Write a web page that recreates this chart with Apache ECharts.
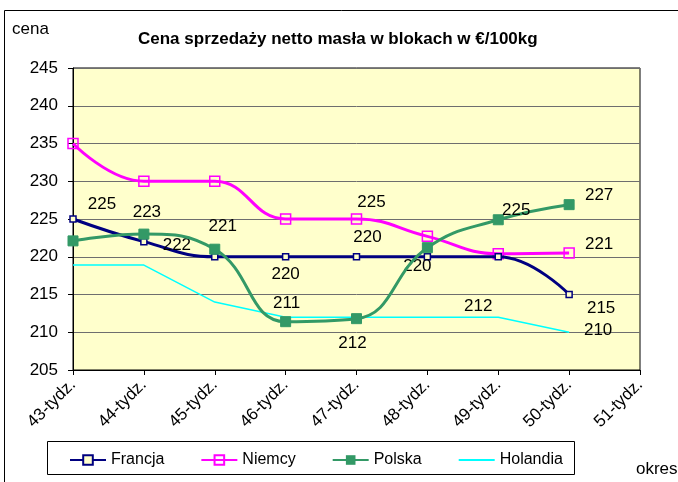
<!DOCTYPE html>
<html>
<head>
<meta charset="utf-8">
<script src="https://cdn.jsdelivr.net/npm/echarts@6/dist/echarts.min.js"></script>
<style>
  html, body { margin: 0; padding: 0; background: #fff; }
  #chart { width: 678px; height: 482px; }
</style>
</head>
<body>
<div id="chart"></div>
<script>
const weeks = ['43-tydz.', '44-tydz.', '45-tydz.', '46-tydz.', '47-tydz.', '48-tydz.', '49-tydz.', '50-tydz.', '51-tydz.'];
const francja = [225, 222, 220, 220, 220, 220, 220, 215];
const niemcy = [235, 230, 230, 225, 225, 222.7, 220.4, 220.5];
const polska = [222.1, 223, 221, 211.4, 211.8, 221.2, 224.9, 226.9];
const holandia = [218.9, 218.9, 214, 212, 212, 212, 212, 210];

// which points carry a data label, and where the label sits relative to the point
const labelOffsets = {
  Francja: { 0: [29, -15], 1: [33, 4], 3: [0, 18], 4: [11, -19], 5: [-10, 10], 7: [32, 14] },
  Niemcy: { 4: [15, -17], 7: [30, -9] },
  Polska: { 1: [3, -22], 2: [8, -23], 3: [1, -18], 4: [-4, 25], 6: [18, -9], 7: [30, -9] },
  Holandia: { 6: [-20, -11], 7: [29, -2] }
};

function withLabels(name, values) {
  const offs = labelOffsets[name];
  return values.map((v, i) => {
    if (!offs[i]) return { value: v, label: { show: false } };
    return {
      value: v,
      label: {
        show: true,
        position: 'inside',
        offset: offs[i],
        formatter: String(Math.round(v))
      }
    };
  });
}

const chartDom = document.getElementById('chart');
const myChart = echarts.init(chartDom);

const labelStyle = {
  color: '#000',
  fontSize: 17,
  fontFamily: 'Liberation Sans, Arial, sans-serif'
};

const option = {
  animation: false,
  textStyle: { fontFamily: 'Liberation Sans, Arial, sans-serif' },
  title: {
    text: 'Cena sprzedaży netto masła w blokach w €/100kg',
    left: 133,
    top: 26,
    textStyle: { fontSize: 17, fontWeight: 'bold', color: '#000' }
  },
  graphic: [
    {
      type: 'rect',
      shape: { x: 4.5, y: 10.5, width: 700, height: 500 },
      style: { fill: 'none', stroke: '#000', lineWidth: 1 },
      silent: true
    },
    {
      type: 'rect',
      shape: { x: 47.5, y: 441.5, width: 527, height: 33 },
      style: { fill: '#fff', stroke: '#000', lineWidth: 1 },
      silent: true
    },
    {
      type: 'text',
      left: 12,
      top: 21,
      style: { text: 'cena', fontSize: 17, fill: '#000' }
    },
    {
      type: 'text',
      left: 636,
      top: 461,
      style: { text: 'okres', fontSize: 17, fill: '#000' }
    }
  ],
  legend: {
    left: 64,
    top: 447,
    itemWidth: 36,
    itemHeight: 12,
    itemGap: 36,
    textStyle: { fontSize: 16, color: '#000' },
    data: [
      'Francja',
      'Niemcy',
      'Polska',
      { name: 'Holandia', itemStyle: { opacity: 0 } }
    ]
  },
  grid: {
    left: 73,
    right: 38,
    top: 68,
    bottom: 112,
    show: true,
    backgroundColor: '#FFFFCC',
    borderColor: '#000',
    borderWidth: 1
  },
  xAxis: {
    type: 'category',
    boundaryGap: false,
    data: weeks,
    axisLine: { lineStyle: { color: '#000' } },
    axisTick: { show: true, length: 5, lineStyle: { color: '#000' } },
    axisLabel: { rotate: 45, fontSize: 17, color: '#000', margin: 12 }
  },
  yAxis: {
    type: 'value',
    min: 205,
    max: 245,
    interval: 5,
    axisLine: { show: true, lineStyle: { color: '#000' } },
    axisTick: { show: true, length: 5, lineStyle: { color: '#000' } },
    axisLabel: { fontSize: 17, color: '#000', margin: 15 },
    splitLine: { lineStyle: { color: '#6e6e6e', width: 1 } }
  },
  series: [
    {
      name: 'Francja',
      type: 'line',
      smooth: 0.45,
      symbol: 'rect',
      symbolSize: 6,
      data: withLabels('Francja', francja),
      lineStyle: { color: '#000080', width: 3 },
      itemStyle: { color: '#FFFFCC', borderColor: '#000080', borderWidth: 1.5 },
      label: labelStyle,
      z: 4
    },
    {
      name: 'Niemcy',
      type: 'line',
      smooth: 0.45,
      symbol: 'rect',
      symbolSize: 10,
      data: withLabels('Niemcy', niemcy),
      lineStyle: { color: '#FF00FF', width: 3 },
      itemStyle: { color: 'rgba(255,255,204,0)', borderColor: '#FF00FF', borderWidth: 1.5 },
      label: labelStyle,
      z: 3
    },
    {
      name: 'Polska',
      type: 'line',
      smooth: 0.45,
      symbol: 'rect',
      symbolSize: 10,
      data: withLabels('Polska', polska),
      lineStyle: { color: '#339966', width: 3 },
      itemStyle: { color: '#339966', borderColor: '#339966' },
      label: labelStyle,
      z: 5
    },
    {
      name: 'Holandia',
      type: 'line',
      smooth: false,
      symbol: 'circle',
      symbolSize: 0.1,
      data: withLabels('Holandia', holandia),
      lineStyle: { color: '#00FFFF', width: 1.5 },
      itemStyle: { color: '#00FFFF' },
      label: labelStyle,
      z: 2
    }
  ]
};

myChart.setOption(option);

window.addEventListener('resize', () => {
  myChart.resize();
});
</script>
</body>
</html>
